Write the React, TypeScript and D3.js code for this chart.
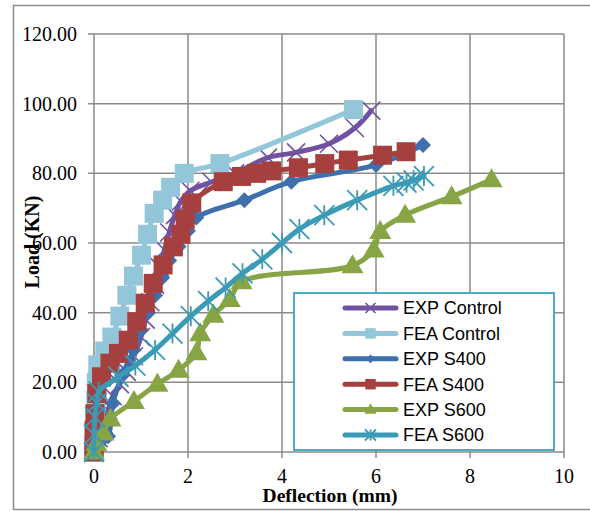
import React from "react";
import * as d3 from "d3";

const xTicks = [0, 2, 4, 6, 8, 10];
const yTicks = [0, 20, 40, 60, 80, 100, 120];
const yTickLabels = ["0.00", "20.00", "40.00", "60.00", "80.00", "100.00", "120.00"];

const expControl: [number, number][] = [
  [0, 0], [0.1, 4], [0.2, 8], [0.3, 12], [0.4, 16], [0.55, 19.5], [0.7, 23], [0.85, 27.5],
  [1.0, 33], [1.1, 38], [1.2, 43], [1.3, 48], [1.4, 53], [1.5, 58], [1.6, 63], [1.72, 68],
  [1.85, 72], [2.05, 75], [2.5, 77.5], [3.0, 80], [3.7, 84.5], [4.3, 86], [5.0, 88.5],
  [5.55, 93], [5.9, 98],
];
const feaControl: [number, number][] = [
  [0, 0], [0.02, 5], [0.03, 10], [0.04, 15], [0.05, 20], [0.08, 25], [0.23, 29], [0.38, 33],
  [0.55, 39], [0.7, 45], [0.84, 50.5], [1.01, 56.5], [1.14, 62.5], [1.28, 68.5], [1.46, 72.3],
  [1.63, 76], [1.92, 80], [2.68, 82.8], [5.52, 98.3],
];
const expS400: [number, number][] = [
  [0, 0], [0.3, 4.5], [0.4, 14], [0.6, 22], [0.84, 29.3], [1.0, 35], [1.15, 40], [1.3, 45],
  [1.45, 50], [1.6, 55], [1.8, 59], [2.0, 63.5], [2.18, 67.3], [3.2, 72.3], [4.2, 77.6],
  [6.0, 82.4], [7.0, 88.1],
];
const feaS400: [number, number][] = [
  [0, 0], [0, 1.5], [0, 6.3], [0.02, 11], [0.06, 16.8], [0.16, 21.6], [0.34, 25.5], [0.52, 28.3],
  [0.73, 32.1], [0.91, 37.4], [1.09, 42.7], [1.26, 48.4], [1.47, 53.7], [1.69, 58.9],
  [1.85, 62.5], [1.94, 66.8], [2.08, 71.5], [2.75, 77.6], [3.14, 79.1], [3.46, 80],
  [3.78, 80.7], [4.35, 81.6], [4.91, 82.8], [5.41, 83.8], [6.14, 85.2], [6.64, 86.2],
];
const expS600: [number, number][] = [
  [0, 0], [0.05, 2.5], [0.2, 5.5], [0.35, 9.5], [0.85, 14.5], [1.35, 19.5], [1.8, 23.5],
  [2.18, 28.5], [2.26, 34], [2.54, 39.3], [2.89, 43.8], [3.14, 48.9], [5.5, 53.5],
  [5.95, 58], [6.09, 63.3], [6.62, 68], [7.61, 73.3], [8.46, 78.2],
];
const feaS600: [number, number][] = [
  [0, 0], [0, 5], [0.02, 10], [0.06, 14], [0.1, 17.3], [0.52, 21.6], [0.88, 24.8], [1.3, 29.3],
  [1.67, 34], [2.06, 39], [2.43, 43.3], [2.8, 47.2], [3.16, 51.3], [3.58, 55.3], [4.0, 60],
  [4.37, 64], [4.9, 68], [5.6, 72.3], [6.37, 76.4], [6.65, 77.3], [6.8, 78], [7.02, 79.2],
];

const seriesNames = ["EXP Control", "FEA Control", "EXP S400", "FEA S400", "EXP S600", "FEA S600"];
const seriesData = [expControl, feaControl, expS400, feaS400, expS600, feaS600];
const seriesColors = ["#7152A0", "#93C6D8", "#4070AC", "#A6403E", "#87A545", "#3B9BB6"];
const seriesMarkers = ["x", "square", "diamond", "square", "triangle", "star"];

const W = 590;
const H = 511;
const x = d3.scaleLinear().domain([0, 10]).range([94, 564]);
const y = d3.scaleLinear().domain([0, 120]).range([452, 34]);

const line = d3
  .line<[number, number]>()
  .x((d) => x(d[0]))
  .y((d) => y(d[1]))
  .curve(d3.curveCatmullRom.alpha(0.5));

function Marker({ kind, cx, cy, color, s = 1 }: { kind: string; cx: number; cy: number; color: string; s?: number }) {
  if (kind === "square") {
    const h = 9.5 * s;
    return <rect x={cx - h} y={cy - h} width={2 * h} height={2 * h} fill={color} />;
  }
  if (kind === "diamond") {
    const h = 8 * s;
    return <path d={`M${cx},${cy - h}L${cx + h},${cy}L${cx},${cy + h}L${cx - h},${cy}Z`} fill={color} />;
  }
  if (kind === "triangle") {
    const w = 11 * s;
    const h = 19 * s;
    return (
      <path
        d={`M${cx},${cy - h * 0.6}L${cx + w},${cy + h * 0.4}L${cx - w},${cy + h * 0.4}Z`}
        fill={color}
      />
    );
  }
  if (kind === "x") {
    const h = 9 * s;
    return (
      <path
        d={`M${cx - h},${cy - h}L${cx + h},${cy + h}M${cx - h},${cy + h}L${cx + h},${cy - h}`}
        stroke={color}
        strokeWidth={1.6}
        fill="none"
      />
    );
  }
  // star (asterisk)
  const h = 10 * s;
  return (
    <path
      d={`M${cx - h},${cy - h}L${cx + h},${cy + h}M${cx - h},${cy + h}L${cx + h},${cy - h}M${cx},${cy - h}L${cx},${cy + h}`}
      stroke={color}
      strokeWidth={1.8}
      fill="none"
    />
  );
}

export default function App() {
  const gridColor = "#8a8a8a";
  const serif = "'Liberation Serif', 'Times New Roman', serif";
  const sans = "'Liberation Sans', Arial, sans-serif";
  const legendX = 294;
  const legendY = 293;
  const legendW = 260;
  const legendH = 157;
  const rowY0 = 308;
  const rowStep = 25.4;

  return (
    <svg
      width={W}
      height={H}
      style={{ position: "absolute", left: 0, top: 0, background: "#fff" }}
    >
      <rect x={13.5} y={5.5} width={W} height={504} fill="#fff" stroke="#8c8c8c" strokeWidth={1.5} />
      {/* grid */}
      {yTicks.map((t) => (
        <line key={"gy" + t} x1={88} x2={564} y1={y(t)} y2={y(t)} stroke={gridColor} strokeWidth={1.5} />
      ))}
      {xTicks.map((t) => (
        <line key={"gx" + t} x1={x(t)} x2={x(t)} y1={34} y2={458} stroke={gridColor} strokeWidth={1.5} />
      ))}
      {/* tick labels */}
      {yTicks.map((t, i) => (
        <text
          key={"ty" + t}
          x={77}
          y={y(t)}
          dy="0.35em"
          textAnchor="end"
          fontFamily={serif}
          fontSize={20}
          fill="#000"
        >
          {yTickLabels[i]}
        </text>
      ))}
      {xTicks.map((t) => (
        <text
          key={"tx" + t}
          x={x(t)}
          y={483}
          textAnchor="middle"
          fontFamily={serif}
          fontSize={20}
          fill="#000"
        >
          {t}
        </text>
      ))}
      {/* series */}
      {seriesData.map((data, i) => (
        <g key={"s" + i}>
          <path d={line(data) || ""} fill="none" stroke={seriesColors[i]} strokeWidth={5} strokeLinejoin="round" strokeLinecap="round" />
          {data.map((d, j) => (
            <Marker key={j} kind={seriesMarkers[i]} cx={x(d[0])} cy={y(d[1])} color={seriesColors[i]} />
          ))}
        </g>
      ))}
      {/* axis titles */}
      <text
        x={330}
        y={502}
        textAnchor="middle"
        fontFamily={serif}
        fontWeight="bold"
        fontSize={19.5}
        fill="#000"
      >
        Deflection (mm)
      </text>
      <text
        transform="translate(39,242) rotate(-90)"
        textAnchor="middle"
        fontFamily={serif}
        fontWeight="bold"
        fontSize={20}
        fill="#000"
      >
        Load (KN)
      </text>
      {/* legend */}
      <rect x={legendX} y={legendY} width={legendW} height={legendH} fill="#fff" stroke="#4BACC6" strokeWidth={2} />
      {seriesNames.map((name, i) => {
        const cy = rowY0 + i * rowStep;
        return (
          <g key={"l" + i}>
            <line x1={345} x2={396} y1={cy} y2={cy} stroke={seriesColors[i]} strokeWidth={5} strokeLinecap="round" />
            <Marker kind={seriesMarkers[i]} cx={370.5} cy={cy} color={seriesColors[i]} s={0.55} />
            <text x={403} y={cy} dy="0.36em" fontFamily={sans} fontSize={18} fill="#000">
              {name}
            </text>
          </g>
        );
      })}
    </svg>
  );
}
